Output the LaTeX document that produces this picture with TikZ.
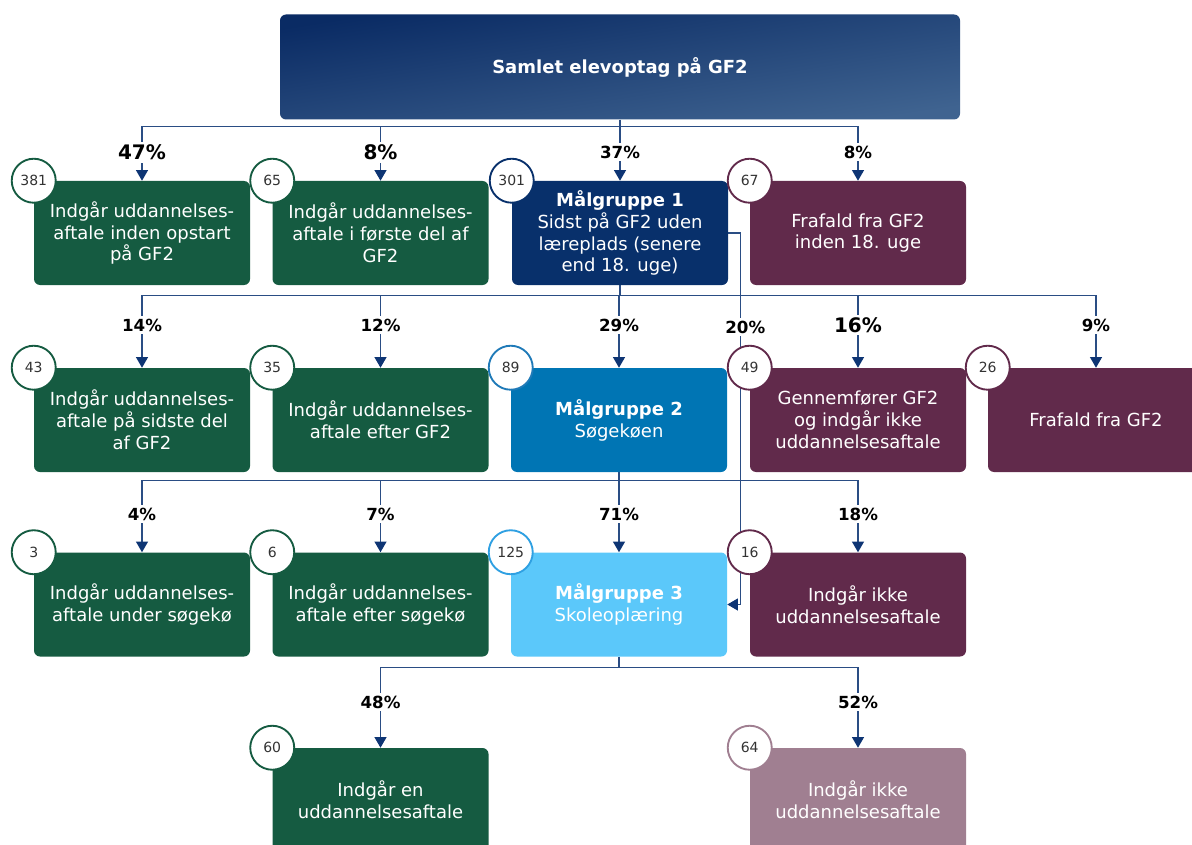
\documentclass[tikz,border=0pt]{standalone}
\usepackage{fontspec}
\setmainfont{DejaVu Sans}
\usepackage{tikz}
\usetikzlibrary{positioning}
\usetikzlibrary{arrows.meta}
\pgfdeclarelayer{background}
\pgfdeclarelayer{foreground}
\pgfsetlayers{background,main,foreground}

\definecolor{boxgreen}{HTML}{155B41}
\definecolor{boxnavy}{HTML}{08306B}
\definecolor{boxblue}{HTML}{0075B4}
\definecolor{boxlight}{HTML}{5BC8FA}
\definecolor{boxpurple}{HTML}{612A4B}
\definecolor{boxmauve}{HTML}{A07F91}
\definecolor{topdark}{HTML}{0A2B64}
\definecolor{toplight}{HTML}{3F6390}
\definecolor{linkblue}{HTML}{2A4D84}
\definecolor{tipblue}{HTML}{0E3574}
\definecolor{numgray}{HTML}{333333}
\definecolor{ringblue}{HTML}{1F7AB8}
\definecolor{ringlight}{HTML}{2FA0E2}

\tikzset{
	stepbox/.style={rectangle, rounded corners=4.5pt, minimum width=162pt, minimum height=78pt,
		inner sep=0pt, text=white, align=center, font=\fontsize{13.5}{16.4}\selectfont},
	aftale/.style={stepbox, fill=boxgreen},
	frafald/.style={stepbox, fill=boxpurple},
	topbox/.style={stepbox, minimum width=510pt, minimum height=78.75pt, shading=axis,
		top color=topdark, bottom color=toplight, shading angle=9, font=\bfseries\fontsize{13.5}{16.2}\selectfont},
	count/.style={circle, draw, fill=white, line width=1.4pt, minimum size=33pt, inner sep=0pt,
		text=numgray, font=\fontsize{10.5}{12}\selectfont},
	link/.style={draw=linkblue, line width=0.9pt, -{Triangle[width=9pt,length=8pt,color=tipblue]}},
	pct/.style={fill=white, inner sep=2pt, font=\bfseries\fontsize{12.5}{14}\selectfont},
	bigpct/.style={pct, font=\bfseries\fontsize{15}{17}\selectfont},
}

\begin{document}
\begin{tikzpicture}[x=0.75pt,y=-0.75pt]
	\useasboundingbox (0,0) rectangle (1192,845);
	\clip (0,0) rectangle (1192,845);
					%Nodes
				\node[topbox]  (samlet) at (620,67) {Samlet elevoptag på GF2};

				\node[aftale]  (a1) at (142,233)   {Indgår uddannelses-\\aftale inden opstart\\på GF2};
				\node[aftale]  (a2) at (380.5,233) {Indgår uddannelses-\\aftale i første del af\\GF2};
				\node[stepbox,fill=boxnavy] (m1) at (620,233) {\textbf{Målgruppe 1}\\Sidst på GF2 uden\\læreplads (senere\\end 18. uge)};
				\node[frafald] (a4) at (858,233)   {Frafald fra GF2\\inden 18. uge};

				\node[aftale]  (b1) at (142,420)   {Indgår uddannelses-\\aftale på sidste del\\af GF2};
				\node[aftale]  (b2) at (380.5,420) {Indgår uddannelses-\\aftale efter GF2};
				\node[stepbox,fill=boxblue] (m2) at (619,420) {\textbf{Målgruppe 2}\\Søgekøen};
				\node[frafald] (b4) at (858,420)   {Gennemfører GF2\\og indgår ikke\\uddannelsesaftale};
				\node[frafald] (b5) at (1096,420)  {Frafald fra GF2};

				\node[aftale]  (c1) at (142,604.5)   {Indgår uddannelses-\\aftale under søgekø};
				\node[aftale]  (c2) at (380.5,604.5) {Indgår uddannelses-\\aftale efter søgekø};
				\node[stepbox,fill=boxlight] (m3) at (619,604.5) {\textbf{Målgruppe 3}\\Skoleoplæring};
				\node[frafald] (c4) at (858,604.5)   {Indgår ikke\\uddannelsesaftale};

				\node[aftale]  (d1) at (380.5,800) {Indgår en\\uddannelsesaftale};
				\node[stepbox,fill=boxmauve] (d2) at (858,800) {Indgår ikke\\uddannelsesaftale};

				%Lines
				\begin{pgfonlayer}{background}
				\draw[link] (samlet.south) -- ++(0,7) -| (a1.north) node[bigpct,pos=0.737] {47\%};
				\draw[link] (samlet.south) -- ++(0,7) -| (a2.north) node[bigpct,pos=0.737] {8\%};
				\draw[link] (samlet.south) -- ++(0,7) -| (m1.north) node[pct,pos=0.737] {37\%};
				\draw[link] (samlet.south) -- ++(0,7) -| (a4.north) node[pct,pos=0.737] {8\%};

				\draw[link] (m1.south) -- ++(0,10) -| (b1.north) node[pct,pos=0.705] {14\%};
				\draw[link] (m1.south) -- ++(0,10) -| (b2.north) node[pct,pos=0.705] {12\%};
				\draw[link] (m1.south) -- ++(0,10) -| (m2.north) node[pct,pos=0.705] {29\%};
				\draw[link] (m1.south) -- ++(0,10) -| (b4.north) node[bigpct,pos=0.705] {16\%};
				\draw[link] (m1.south) -- ++(0,10) -| (b5.north) node[pct,pos=0.705] {9\%};
				\draw[link] (m1.east) -- ++(12,0) |- (m3.east) node[pct,pos=0.1265,xshift=3.75pt] {20\%};

				\draw[link] (m2.south) -- ++(0,8) -| (c1.north) node[pct,pos=0.736] {4\%};
				\draw[link] (m2.south) -- ++(0,8) -| (c2.north) node[pct,pos=0.736] {7\%};
				\draw[link] (m2.south) -- ++(0,8) -| (m3.north) node[pct,pos=0.736] {71\%};
				\draw[link] (m2.south) -- ++(0,8) -| (c4.north) node[pct,pos=0.736] {18\%};

				\draw[link] (m3.south) -- ++(0,11) -| (d1.north) node[pct,pos=0.715] {48\%};
				\draw[link] (m3.south) -- ++(0,11) -| (d2.north) node[pct,pos=0.715] {52\%};
				\end{pgfonlayer}

				%Counts
				\node[count,draw=boxgreen]  (na1) at (a1.north west) {381};
				\node[count,draw=boxgreen]  (na2) at (a2.north west) {65};
				\node[count,draw=boxnavy]   (nm1) at (m1.north west) {301};
				\node[count,draw=boxpurple] (na4) at (a4.north west) {67};

				\node[count,draw=boxgreen]  (nb1) at (b1.north west) {43};
				\node[count,draw=boxgreen]  (nb2) at (b2.north west) {35};
				\node[count,draw=ringblue]  (nm2) at (m2.north west) {89};
				\node[count,draw=boxpurple] (nb4) at (b4.north west) {49};
				\node[count,draw=boxpurple] (nb5) at (b5.north west) {26};

				\node[count,draw=boxgreen]  (nc1) at (c1.north west) {3};
				\node[count,draw=boxgreen]  (nc2) at (c2.north west) {6};
				\node[count,draw=ringlight] (nm3) at (m3.north west) {125};
				\node[count,draw=boxpurple] (nc4) at (c4.north west) {16};

				\node[count,draw=boxgreen]  (nd1) at (d1.north west) {60};
				\node[count,draw=boxmauve]  (nd2) at (d2.north west) {64};
\end{tikzpicture}
\end{document}
